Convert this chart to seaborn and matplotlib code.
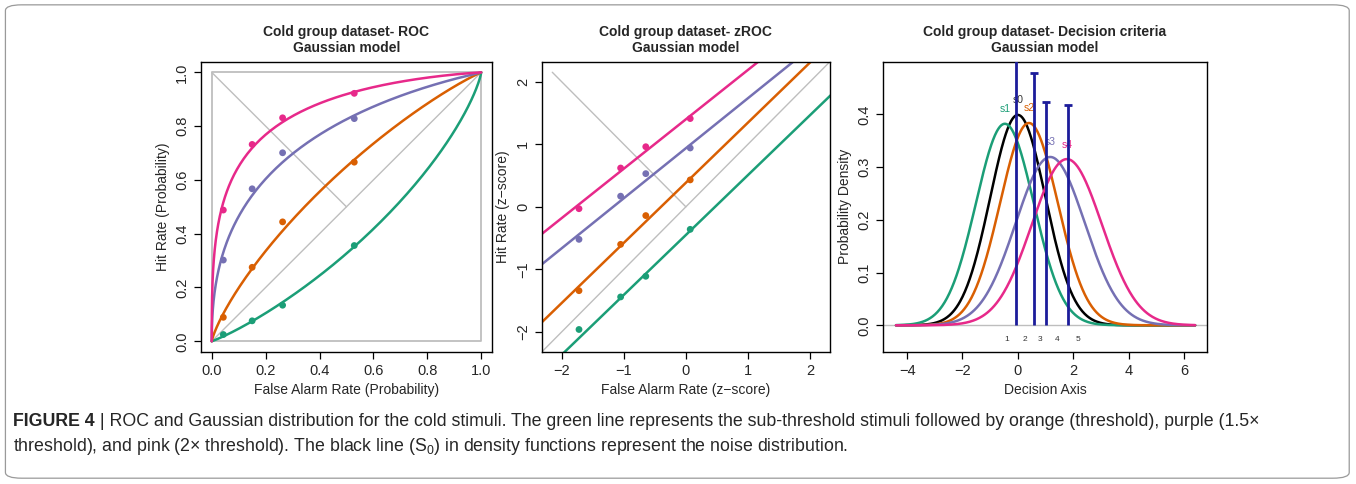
import math
import numpy as np
import pandas as pd
import matplotlib
matplotlib.use("Agg")
import matplotlib.pyplot as plt
import seaborn as sns
from matplotlib.patches import FancyBboxPatch

# --- data ---
SERIES = ["s1", "s2", "s3", "s4"]
COLORS = {"s1": "#1B9E77", "s2": "#D95F02", "s3": "#7570B3", "s4": "#E7298A", "s0": "black"}

# observed false-alarm / hit rates (probability scale)
fa_prob = [0.043, 0.150, 0.263, 0.529]
hit_prob_s1 = [0.025, 0.076, 0.134, 0.356]
hit_prob_s2 = [0.089, 0.275, 0.444, 0.666]
hit_prob_s3 = [0.302, 0.567, 0.701, 0.828]
hit_prob_s4 = [0.488, 0.732, 0.831, 0.922]

# observed z-scores
fa_z = [-1.72, -1.05, -0.645, 0.07]
hit_z_s1 = [-1.96, -1.44, -1.11, -0.36]
hit_z_s2 = [-1.34, -0.60, -0.14, 0.43]
hit_z_s3 = [-0.52, 0.17, 0.53, 0.94]
hit_z_s4 = [-0.03, 0.62, 0.96, 1.41]

# fitted gaussian model parameters (signal mean / sd, noise = N(0,1))
model_mu = [-0.47, 0.40, 1.17, 1.77]
model_sd = [1.044, 1.04, 1.25, 1.266]

# decision criteria, heights of the criterion markers, region labels
criteria = [-0.07, 0.58, 1.01, 1.80]
crit_top = [0.56, 0.479, 0.424, 0.418]
region_x = [-0.41, 0.25, 0.80, 1.40, 2.18]
region_lab = ["1", "2", "3", "4", "5"]

hit_prob = [hit_prob_s1, hit_prob_s2, hit_prob_s3, hit_prob_s4]
hit_z = [hit_z_s1, hit_z_s2, hit_z_s3, hit_z_s4]

sns.set_style("ticks")
plt.rcParams["font.family"] = ["Liberation Sans", "DejaVu Sans"]
plt.rcParams["mathtext.fontset"] = "custom"
plt.rcParams["mathtext.rm"] = "Liberation Sans"
plt.rcParams["mathtext.default"] = "rm"

GRAY = "#BEBEBE"
TICK_FS = 10.5
LAB_FS = 10
TITLE_FS = 10
LW = 1.8


def phi(x):
    return 0.5 * (1.0 + np.vectorize(math.erf)(np.asarray(x) / math.sqrt(2.0)))


def npdf(x, mu, sd):
    return np.exp(-0.5 * ((x - mu) / sd) ** 2) / (sd * math.sqrt(2 * math.pi))


def style_axes(ax):
    for sp in ax.spines.values():
        sp.set_visible(True)
        sp.set_color("black")
        sp.set_linewidth(1.0)
    ax.tick_params(axis="both", labelsize=TICK_FS, length=5, width=0.9, color="black", direction="out")
    for lab in ax.get_yticklabels():
        lab.set_rotation(90)
        lab.set_va("center")


fig = plt.figure(figsize=(13.56, 4.84), dpi=100)

# outer rounded frame of the journal figure
frame = FancyBboxPatch((0.004, 0.012), 0.991, 0.978, boxstyle="round,pad=0,rounding_size=0.012",
                       transform=fig.transFigure, fill=False, edgecolor="#9a9a9a", linewidth=0.9)
fig.patches.append(frame)

ax1 = fig.add_axes([0.1482, 0.2727, 0.2146, 0.600])
ax2 = fig.add_axes([0.3995, 0.2727, 0.2126, 0.600])
ax3 = fig.add_axes([0.6512, 0.2727, 0.2389, 0.600])

# --- ROC panel ---
ax1.plot([0, 1, 1, 0, 0], [0, 0, 1, 1, 0], color=GRAY, lw=1.3)
ax1.plot([0, 1], [0, 1], color=GRAY, lw=1.0)
ax1.plot([0, 0.5], [1, 0.5], color=GRAY, lw=1.0)
c_grid = np.linspace(-9, 9, 800)
for i, s in enumerate(SERIES):
    curve = pd.DataFrame({"F": 1 - phi(c_grid), "H": 1 - phi((c_grid - model_mu[i]) / model_sd[i])})
    sns.lineplot(data=curve, x="F", y="H", sort=False, estimator=None, color=COLORS[s], lw=LW, ax=ax1)
    pts = pd.DataFrame({"F": fa_prob, "H": hit_prob[i]})
    sns.scatterplot(data=pts, x="F", y="H", color=COLORS[s], s=24, edgecolor="none", ax=ax1, zorder=5)
ax1.set_xlim(-0.04, 1.04)
ax1.set_ylim(-0.04, 1.04)
ax1.set_xticks(np.arange(0, 1.01, 0.2))
ax1.set_yticks(np.arange(0, 1.01, 0.2))
ax1.set_xticklabels(["0.0", "0.2", "0.4", "0.6", "0.8", "1.0"])
ax1.set_yticklabels(["0.0", "0.2", "0.4", "0.6", "0.8", "1.0"])
ax1.set_xlabel("False Alarm Rate (Probability)", fontsize=LAB_FS)
ax1.set_ylabel("Hit Rate (Probability)", fontsize=LAB_FS)
ax1.set_title("Cold group dataset- ROC\nGaussian model", fontsize=TITLE_FS, fontweight="bold", pad=7)
style_axes(ax1)

# --- zROC panel ---
ax2.plot([-3, 3], [-3, 3], color=GRAY, lw=1.0)
ax2.plot([-2.15, 0], [2.15, 0], color=GRAY, lw=1.0)
zx = np.array([-3.0, 3.0])
for i, s in enumerate(SERIES):
    line = pd.DataFrame({"zF": zx, "zH": model_mu[i] / model_sd[i] + zx / model_sd[i]})
    sns.lineplot(data=line, x="zF", y="zH", color=COLORS[s], lw=LW, ax=ax2)
    pts = pd.DataFrame({"zF": fa_z, "zH": hit_z[i]})
    sns.scatterplot(data=pts, x="zF", y="zH", color=COLORS[s], s=24, edgecolor="none", ax=ax2, zorder=5)
ax2.set_xlim(-2.32, 2.32)
ax2.set_ylim(-2.32, 2.32)
ax2.set_xticks([-2, -1, 0, 1, 2])
ax2.set_yticks([-2, -1, 0, 1, 2])
ax2.set_xticklabels(["\u22122", "\u22121", "0", "1", "2"])
ax2.set_yticklabels(["\u22122", "\u22121", "0", "1", "2"])
ax2.set_xlabel("False Alarm Rate (z\u2212score)", fontsize=LAB_FS)
ax2.set_ylabel("Hit Rate (z\u2212score)", fontsize=LAB_FS)
ax2.set_title("Cold group dataset- zROC\nGaussian model", fontsize=TITLE_FS, fontweight="bold", pad=7)
style_axes(ax2)

# --- decision criteria panel ---
xs = np.linspace(-4.4, 6.4, 500)
ax3.axhline(0, color=GRAY, lw=1.0)
dens = pd.DataFrame({"x": xs, "y": npdf(xs, 0, 1)})
sns.lineplot(data=dens, x="x", y="y", color="black", lw=LW, ax=ax3)
for i, s in enumerate(SERIES):
    dens = pd.DataFrame({"x": xs, "y": npdf(xs, model_mu[i], model_sd[i])})
    sns.lineplot(data=dens, x="x", y="y", color=COLORS[s], lw=LW, ax=ax3)
ax3.text(0.0, 0.399 + 0.022, "s0", color="#333333", fontsize=7.5, ha="center")
for i, s in enumerate(SERIES):
    top = 1 / (model_sd[i] * math.sqrt(2 * math.pi))
    ax3.text(model_mu[i], top + 0.022, s, color=COLORS[s], fontsize=7.5, ha="center")
ax3.vlines(criteria, 0, crit_top, color="#1c1c9a", lw=2.0, zorder=6)
ax3.scatter(criteria, crit_top, marker="_", s=30, color="#1c1c9a", linewidths=2.0, zorder=6)
for xv, lab in zip(region_x, region_lab):
    ax3.text(xv, -0.027, lab, fontsize=6, ha="center", va="center", color="#333333")
ax3.set_xlim(-4.87, 6.83)
ax3.set_ylim(-0.0507, 0.5)
ax3.set_xticks([-4, -2, 0, 2, 4, 6])
ax3.set_yticks([0.0, 0.1, 0.2, 0.3, 0.4])
ax3.set_xticklabels(["\u22124", "\u22122", "0", "2", "4", "6"])
ax3.set_yticklabels(["0.0", "0.1", "0.2", "0.3", "0.4"])
ax3.set_xlabel("Decision Axis", fontsize=LAB_FS)
ax3.set_ylabel("Probability Density", fontsize=LAB_FS)
ax3.set_title("Cold group dataset- Decision criteria\nGaussian model", fontsize=TITLE_FS, fontweight="bold", pad=7)
style_axes(ax3)

# --- caption ---
CAP_FS = 12.8
t1 = fig.text(0.0096, 1 - 426 / 484, "FIGURE 4", fontsize=CAP_FS, fontweight="bold", va="baseline")
ax3.annotate(" | ROC and Gaussian distribution for the cold stimuli. The green line represents the "
             "sub-threshold stimuli followed by orange (threshold), purple (1.5\u00d7",
             xy=(1, 0), xycoords=t1, va="bottom", ha="left", fontsize=CAP_FS, annotation_clip=False)
fig.text(0.0096, 1 - 451 / 484, "threshold), and pink (2\u00d7 threshold). The black line (S$_0$) in density "
         "functions represent the noise distribution.", fontsize=CAP_FS, va="baseline")

fig.savefig("out.png", dpi=100)
